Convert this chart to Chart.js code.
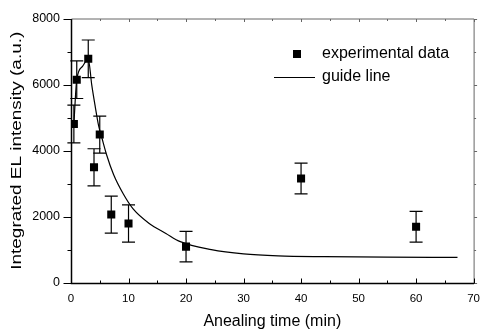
<!DOCTYPE html>
<html>
<head>
<meta charset="utf-8">
<script src="https://cdn.jsdelivr.net/npm/chart.js@4.4.0/dist/chart.umd.min.js"></script>
<style>
  html, body { margin: 0; padding: 0; background: #fff; }
</style>
</head>
<body>
<canvas id="elChart" width="489" height="333"></canvas>
<script>
// measured points
const timeMin = [0.5, 1, 3, 4, 5, 7, 10, 20, 40, 60];
const elIntensity = [4810, 6150, 6780, 3500, 4490, 2070, 1800, 1100, 3160, 1700];
const elError = [570, 570, 570, 560, 560, 560, 565, 460, 465, 465];

// guide line
const guideTime = [0.5, 1, 2, 3, 3.6, 4.2, 4.8, 5.4, 6.2, 7.4, 9.1, 10.8, 13.6, 16.5, 19, 24.4, 30, 36, 44, 55, 67.2];
const guideValue = [4800, 6150, 6550, 6780, 6000, 5350, 4760, 4370, 3870, 3280, 2690, 2240, 1800, 1500, 1250, 1010, 880, 820, 795, 780, 775];

const xTicks = [0, 10, 20, 30, 40, 50, 60, 70];
const yTicks = [0, 2000, 4000, 6000, 8000];

const FONT = "'Liberation Sans', Arial, sans-serif";
Chart.defaults.font.family = FONT;
Chart.defaults.color = '#000';

// error bars drawn under the markers
const errorBars = {
  id: 'errorBars',
  beforeDatasetsDraw(chart) {
    const { ctx, scales: { x, y } } = chart;
    ctx.save();
    ctx.strokeStyle = '#000';
    ctx.lineWidth = 1.2;
    timeMin.forEach((t, i) => {
      const px = x.getPixelForValue(t);
      const top = y.getPixelForValue(elIntensity[i] + elError[i]);
      const bot = y.getPixelForValue(elIntensity[i] - elError[i]);
      ctx.beginPath();
      ctx.moveTo(px, top); ctx.lineTo(px, bot);
      ctx.moveTo(px - 6.5, top); ctx.lineTo(px + 6.5, top);
      ctx.moveTo(px - 6.5, bot); ctx.lineTo(px + 6.5, bot);
      ctx.stroke();
    });
    ctx.restore();
  }
};

// box, tick marks, axis titles and legend
const frame = {
  id: 'frame',
  afterDraw(chart) {
    const { ctx, chartArea: a, scales: { x, y } } = chart;
    const L = a.left + 0.5, R = a.right + 0.5, T = a.top + 0.5, B = a.bottom + 0.5;
    ctx.save();
    ctx.lineWidth = 1;
    ctx.strokeStyle = '#666';
    ctx.beginPath();
    ctx.moveTo(L, T); ctx.lineTo(R, T); ctx.lineTo(R, B);
    ctx.stroke();

    // top / right mirror ticks
    ctx.beginPath();
    for (let v = x.min; v <= x.max; v += 5) {
      const px = Math.round(x.getPixelForValue(v)) + 0.5;
      ctx.moveTo(px, T); ctx.lineTo(px, T + (v % 10 === 0 ? 3 : 2));
    }
    for (let v = y.min; v <= y.max; v += 1000) {
      const py = Math.round(y.getPixelForValue(v)) + 0.5;
      ctx.moveTo(R, py); ctx.lineTo(R + (v % 2000 === 0 ? 3 : 2), py);
    }
    ctx.stroke();

    ctx.strokeStyle = '#000';
    ctx.lineWidth = 1.5;
    ctx.beginPath();
    ctx.moveTo(L, T); ctx.lineTo(L, B); ctx.lineTo(R, B);
    ctx.stroke();

    ctx.lineWidth = 1;
    ctx.beginPath();
    for (let v = x.min; v <= x.max; v += 5) {
      const px = Math.round(x.getPixelForValue(v)) + 0.5;
      ctx.moveTo(px, B); ctx.lineTo(px, B - (v % 10 === 0 ? 5 : 3));
    }
    for (let v = y.min; v <= y.max; v += 1000) {
      const py = Math.round(y.getPixelForValue(v)) + 0.5;
      ctx.moveTo(L, py); ctx.lineTo(L - (v % 2000 === 0 ? 8 : 4), py);
    }
    ctx.stroke();

    // axis titles (the original is stretched a little)
    ctx.fillStyle = '#000';
    ctx.textAlign = 'center';
    ctx.textBaseline = 'middle';
    ctx.font = '16px ' + FONT;
    ctx.fillText('Anealing time (min)', (a.left + a.right) / 2, 322);

    ctx.save();
    ctx.translate(17, (a.top + a.bottom) / 2);
    ctx.rotate(-Math.PI / 2);
    ctx.font = '15px ' + FONT;
    const yt = 'Integrated EL intensity (a.u.)';
    const sx = 238 / ctx.measureText(yt).width;
    ctx.scale(sx, 1);
    ctx.fillText(yt, 0, 0);
    ctx.restore();

    // legend
    ctx.fillRect(293, 50, 8, 8);
    ctx.beginPath();
    ctx.lineWidth = 1.2;
    ctx.moveTo(274, 77.5); ctx.lineTo(315, 77.5);
    ctx.stroke();
    ctx.font = '16px ' + FONT;
    ctx.textAlign = 'left';
    ctx.fillText('experimental data', 322, 54);
    ctx.fillText('guide line', 322, 77);
    ctx.restore();
  }
};

new Chart(document.getElementById('elChart').getContext('2d'), {
  type: 'scatter',
  data: {
    datasets: [{
      label: 'experimental data',
      data: timeMin.map((t, i) => ({ x: t, y: elIntensity[i] })),
      pointStyle: 'rect',
      pointRadius: 5.7,
      pointHoverRadius: 5.7,
      backgroundColor: '#000',
      borderColor: '#000',
      borderWidth: 0,
      showLine: false,
      order: 0
    }, {
      label: 'guide line',
      data: guideTime.map((t, i) => ({ x: t, y: guideValue[i] })),
      showLine: true,
      pointRadius: 0,
      borderColor: '#000',
      borderWidth: 1.2,
      cubicInterpolationMode: 'monotone',
      order: 1
    }]
  },
  options: {
    responsive: false,
    animation: false,
    layout: { padding: { top: 14, right: 8, left: 0, bottom: 0 } },
    plugins: { legend: { display: false }, tooltip: { enabled: false } },
    scales: {
      x: {
        type: 'linear',
        min: 0, max: 70,
        afterFit(s) { s.height = 50; },
        afterBuildTicks(s) { s.ticks = xTicks.map(v => ({ value: v })); },
        grid: { display: false, drawTicks: false },
        border: { display: false },
        ticks: { padding: 9, font: { size: 11.5 }, maxRotation: 0, callback: v => String(v) }
      },
      y: {
        min: 0, max: 8000,
        afterFit(s) { s.width = 71; },
        afterBuildTicks(s) { s.ticks = yTicks.map(v => ({ value: v })); },
        grid: { display: false, drawTicks: false },
        border: { display: false },
        ticks: { padding: 11, font: { size: 12.5 }, callback: v => String(v) }
      }
    }
  },
  plugins: [errorBars, frame]
});
</script>
</body>
</html>
